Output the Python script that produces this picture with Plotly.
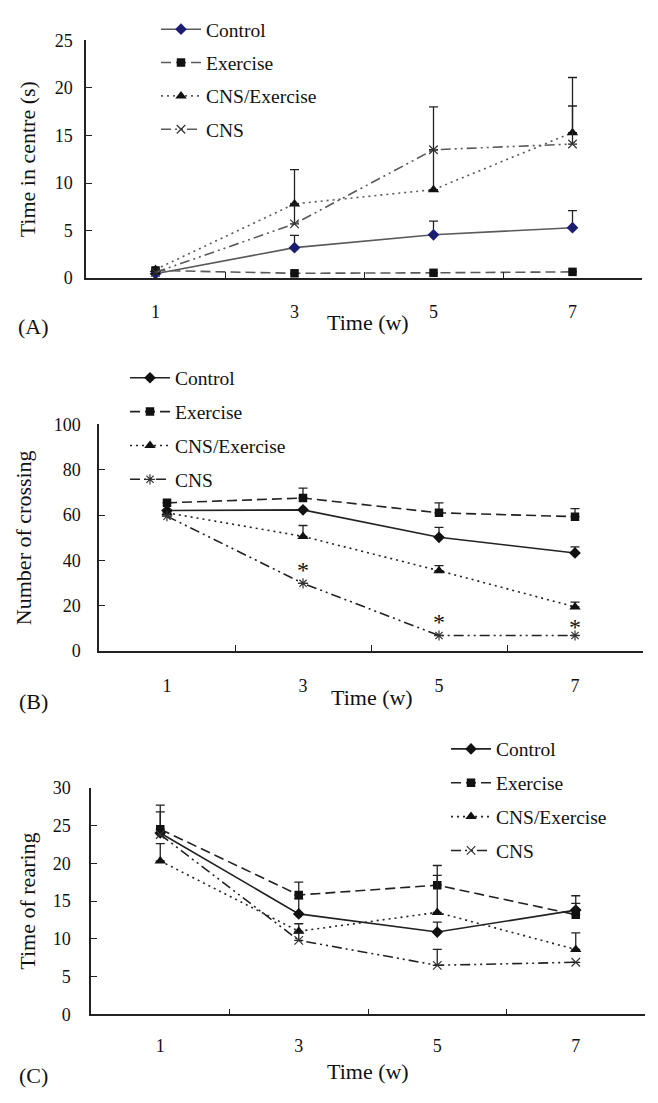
import plotly.graph_objects as go

weeks = ["1", "3", "5", "7"]
groups = ["Control", "Exercise", "CNS/Exercise", "CNS"]

# Panel A: Time in centre (s)
a_control = [0.45, 3.2, 4.55, 5.3]
a_control_err = [0, 1.3, 1.45, 1.8]
a_exercise = [0.8, 0.5, 0.55, 0.65]
a_exercise_err = [0, 0, 0, 0]
a_cnsex = [0.9, 7.8, 9.3, 15.3]
a_cnsex_err = [0, 3.6, 4.2, 5.8]
a_cns = [0.6, 5.7, 13.5, 14.1]
a_cns_err = [0, 2.1, 4.5, 4.0]

# Panel B: Number of crossing
b_control = [62.0, 62.3, 50.2, 43.3]
b_control_err = [0, 0, 4.4, 2.7]
b_exercise = [65.4, 67.5, 61.0, 59.3]
b_exercise_err = [0, 4.4, 4.4, 3.5]
b_cnsex = [61.0, 50.6, 35.5, 19.5]
b_cnsex_err = [0, 4.8, 2.2, 2.1]
b_cns = [59.5, 29.9, 6.9, 6.9]
b_cns_err = [0, 0, 0, 0]
b_sig_weeks = ["3", "5", "7"]
b_sig_y = [38.0, 15.2, 13.0]

# Panel C: Time of rearing
c_control = [24.0, 13.3, 10.9, 13.8]
c_control_err = [2.8, 2.0, 1.3, 1.9]
c_exercise = [24.5, 15.8, 17.1, 13.2]
c_exercise_err = [3.2, 1.7, 2.6, 1.5]
c_cnsex = [20.3, 11.0, 13.5, 8.6]
c_cnsex_err = [2.3, 1.0, 4.9, 2.2]
c_cns = [23.8, 9.8, 6.5, 6.9]
c_cns_err = [0, 1.0, 2.1, 0]

FONT = "Liberation Serif"
W, H = 658, 1103

def px(x):
    return x / W

def py(y):
    return 1 - y / H

DASHES = {
    "Control": "solid",
    "Exercise": "10px,5px",
    "CNS/Exercise": "2px,4px",
    "CNS": "10px,4px,2px,4px,2px,4px",
}

fig = go.Figure()

panels = [
    dict(n="", legend="legend", vals=[a_control, a_exercise, a_cnsex, a_cns],
         errs=[a_control_err, a_exercise_err, a_cnsex_err, a_cns_err],
         line="#5a5a5a", ctrl_marker="#1c1c70", cns_symbol="x-thin-open"),
    dict(n="2", legend="legend2", vals=[b_control, b_exercise, b_cnsex, b_cns],
         errs=[b_control_err, b_exercise_err, b_cnsex_err, b_cns_err],
         line="#222222", ctrl_marker="#111111", cns_symbol="asterisk-open"),
    dict(n="3", legend="legend3", vals=[c_control, c_exercise, c_cnsex, c_cns],
         errs=[c_control_err, c_exercise_err, c_cnsex_err, c_cns_err],
         line="#222222", ctrl_marker="#111111", cns_symbol="x-thin-open"),
]

for p in panels:
    symbols = ["diamond", "square", "triangle-up", p["cns_symbol"]]
    sizes = [9, 8.5, 10, 8.5]
    for g, vals, errs, sym, sz in zip(groups, p["vals"], p["errs"], symbols, sizes):
        mcolor = p["ctrl_marker"] if g == "Control" else "#111111"
        marker = dict(symbol=sym, size=sz, color=mcolor)
        if sym.endswith("-open"):
            marker = dict(symbol=sym, size=sz, color="#333333", line=dict(width=1.2, color="#333333"))
        fig.add_trace(go.Scatter(
            x=weeks, y=vals, name=g, mode="lines+markers",
            line=dict(color=p["line"], width=1.6, dash=DASHES[g]),
            marker=marker,
            error_y=dict(type="data", symmetric=False, array=errs,
                         arrayminus=[0] * len(errs), color="#222222",
                         thickness=1.3, width=4.5),
            xaxis="x" + p["n"], yaxis="y" + p["n"],
            legend=p["legend"], legendgroup=p["legend"] + g,
        ))

# significance asterisks in panel B (category axis -> position index)
for wk, yv in zip(b_sig_weeks, b_sig_y):
    fig.add_annotation(x=weeks.index(wk), y=yv, xref="x2", yref="y2", text="*",
                       showarrow=False,
                       font=dict(family=FONT, size=24, color="#111111"),
                       yanchor="middle", yshift=-5)

TITLE_FONT = dict(family=FONT, size=22, color="#111111")

axis_common = dict(showgrid=False, zeroline=False, showline=True, linecolor="#222222",
                   linewidth=1.5, ticks="inside", tickcolor="#222222", ticklen=6,
                   tickwidth=1.3, tickfont=dict(family=FONT, size=18, color="#111111"))

x_common = dict(axis_common, type="category", tickson="boundaries", range=[-0.5, 3.5],
                categoryorder="array", categoryarray=weeks)

layout_axes = dict(
    xaxis=dict(x_common, domain=[px(86), px(642)], anchor="y", ticklabelstandoff=17),
    yaxis=dict(axis_common, domain=[py(273), py(31)], anchor="x", range=[0, 25],
               dtick=5, ticklabelstandoff=8,
               title=dict(text="Time in centre (s)", standoff=13, font=TITLE_FONT)),
    xaxis2=dict(x_common, domain=[px(99), px(643)], anchor="y2", ticklabelstandoff=17),
    yaxis2=dict(axis_common, domain=[py(653), py(422)], anchor="x2", range=[0, 100],
                dtick=20, ticklabelstandoff=13,
                title=dict(text="Number of crossing", standoff=16, font=TITLE_FONT)),
    xaxis3=dict(x_common, domain=[px(91), px(645)], anchor="y3", ticklabelstandoff=14),
    yaxis3=dict(axis_common, domain=[py(1023), py(792)], anchor="x3", range=[0, 30],
                dtick=5, ticklabelstandoff=15,
                title=dict(text="Time of rearing", standoff=11, font=TITLE_FONT)),
)

legend_common = dict(font=dict(family=FONT, size=19.5, color="#111111"),
                     bgcolor="rgba(0,0,0,0)",
                     xanchor="left", yanchor="top", itemwidth=40)

fig.update_layout(
    width=W, height=H, margin=dict(l=0, r=0, t=0, b=0),
    paper_bgcolor="white", plot_bgcolor="white",
    font=dict(family=FONT, color="#111111"),
    legend=dict(legend_common, x=px(156), y=py(0), tracegroupgap=5),
    legend2=dict(legend_common, x=px(125), y=py(355), tracegroupgap=5.5),
    legend3=dict(legend_common, x=px(446), y=py(733), tracegroupgap=5.5),
    **layout_axes,
)

# x-axis titles and panel letters
for xc, yc, letter in [(368, 318, "(A)"), (372, 700, "(B)"), (368, 1081, "(C)")]:
    fig.add_annotation(x=px(xc), y=py(yc), xref="paper", yref="paper", text="Time (w)",
                       showarrow=False, font=TITLE_FONT,
                       xanchor="center", yanchor="middle")
    fig.add_annotation(x=px(33), y=py(yc + 4), xref="paper", yref="paper", text=letter,
                       showarrow=False, font=TITLE_FONT,
                       xanchor="center", yanchor="middle")

fig.write_html("out.html", config={"displayModeBar": False},
               post_script="document.body.style.margin='0px';"
                           "document.body.style.overflow='hidden';")
